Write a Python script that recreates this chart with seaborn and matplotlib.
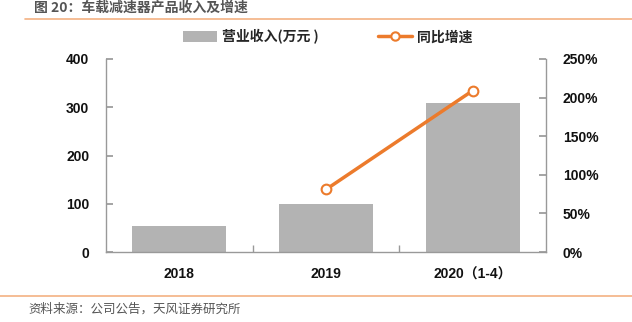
import matplotlib
matplotlib.use("Agg")
import matplotlib.pyplot as plt
import seaborn as sns
import pandas as pd
import numpy as np
from matplotlib.lines import Line2D
from matplotlib.patches import Patch

categories = ["2018", "2019", "2020（1-4）"]
revenue = [54, 100, 308]
growth = [np.nan, 81, 209]
left_ticks = [0, 100, 200, 300, 400]
right_ticks = [0, 50, 100, 150, 200, 250]

sns.set_theme(style="white")
plt.rcParams['font.family'] = ['Liberation Sans', 'Noto Sans CJK SC', 'DejaVu Sans']

ORANGE = "#EC7B2C"
GRAY = "#B3B3B3"
SPINE = "#999999"

df = pd.DataFrame({"cat": categories, "rev": revenue, "g": growth})

fig = plt.figure(figsize=(6.32, 3.22), dpi=100)
ax = fig.add_axes([106/632, 1-252/322, 440/632, 193/322])
sns.barplot(data=df, x="cat", y="rev", order=categories, color=GRAY, width=0.64,
            saturation=1, ax=ax, edgecolor="none")
ax.set_ylim(0, 400)
ax.set_yticks(left_ticks)
ax.set_xlim(-0.5, 2.5)
ax.set_xlabel("")
ax.set_ylabel("")

ax2 = ax.twinx()
sns.pointplot(data=df, x="cat", y="g", order=categories, color=ORANGE, ax=ax2,
              markers="o", linestyles="-", errorbar=None,
              markersize=7, linewidth=2.5,
              markerfacecolor="white", markeredgecolor=ORANGE, markeredgewidth=1.5)
ax2.set_ylim(0, 250)
ax2.set_yticks(right_ticks)
ax2.set_yticklabels([f"{t}%" for t in right_ticks])
ax2.set_xlim(-0.5, 2.5)
ax2.set_ylabel("")
ax2.set_xlabel("")

for a in (ax, ax2):
    for s in a.spines.values():
        s.set_visible(False)
ax.spines['left'].set_visible(True)
ax.spines['bottom'].set_visible(True)
ax2.spines['right'].set_visible(True)
for s in [ax.spines['left'], ax.spines['bottom'], ax2.spines['right']]:
    s.set_color(SPINE)
    s.set_linewidth(1.0)

ax.tick_params(axis='y', direction='in', length=5, color=SPINE, left=True, pad=12,
               labelsize=10)
ax2.tick_params(axis='y', direction='in', length=5, color=SPINE, right=True, pad=12,
                labelsize=10)
ax.set_xticks([0, 1, 2])
ax.set_xticklabels(categories)
ax.set_xticks([0.5, 1.5], minor=True)
ax.tick_params(axis='x', which='major', length=0, pad=11, labelsize=10)
ax.tick_params(axis='x', which='minor', direction='in', length=5, color=SPINE, bottom=True)
for lbl in ax.get_yticklabels() + ax2.get_yticklabels() + ax.get_xticklabels():
    lbl.set_fontweight("bold")
    lbl.set_color("#111111")

# legend
handles = [Patch(facecolor=GRAY, edgecolor="none"),
           Line2D([0], [0], color=ORANGE, lw=2.5, marker="o", markersize=6,
                  markerfacecolor="white", markeredgecolor=ORANGE, markeredgewidth=1.5)]
fig.legend(handles, ["营业收入(万元 )", "同比增速"], loc="center",
           bbox_to_anchor=(0.519, 1-37/322), ncol=2, frameon=False,
           prop={"family": ['Noto Sans CJK SC', 'DejaVu Sans'], "weight": "bold", "size": 10},
           handlelength=2.4, handleheight=0.9, columnspacing=4.3, handletextpad=0.4)

# title and source
fig.text(34/632, 1-8/322, "图 20：车载减速器产品收入及增速", ha="left", va="center",
         fontsize=10, color="#555555", fontweight="bold",
         family=['Noto Sans CJK SC', 'DejaVu Sans'])
fig.add_artist(Line2D([25/632, 1.0], [1-19/322, 1-19/322], color="#F4B183", lw=1.2))
fig.add_artist(Line2D([0.0, 1.0], [1-296/322, 1-296/322], color="#F4B183", lw=1.2))
fig.text(28/632, 1-309/322, "资料来源：公司公告，天风证券研究所", ha="left", va="center",
         fontsize=9, color="#555555", family=['Noto Sans CJK SC', 'DejaVu Sans'])

fig.savefig("out.png", dpi=100)
